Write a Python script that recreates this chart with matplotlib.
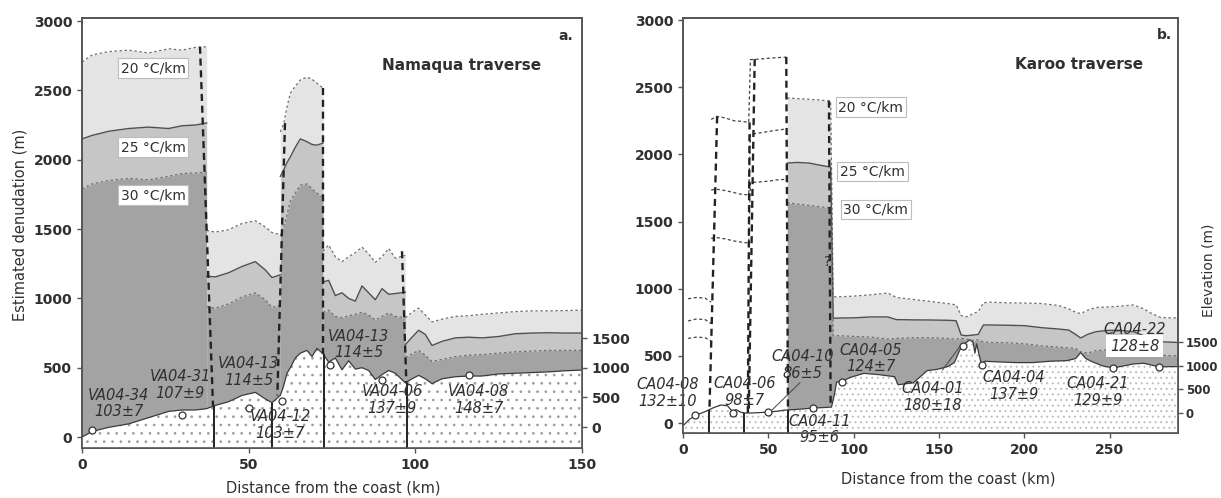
import numpy as np
import matplotlib
matplotlib.use('Agg')
import matplotlib.pyplot as plt

plt.rcParams['font.family'] = ['DejaVu Sans']
plt.rcParams['font.weight'] = 'bold'
plt.rcParams['hatch.linewidth'] = 0.7

# ---------------- Namaqua traverse (a) ----------------
# estimated denudation (m) for three geothermal gradients; repeated km = block break
nam_km = [0, 3, 8, 14, 20, 26, 30, 34, 37.4,
          37.4, 40, 44, 48, 52, 55, 57, 59.5,
          59.5, 60.5, 61.5, 62.5, 64, 65.5, 67.5, 69, 70.5, 72.3,
          72.3, 74, 76, 78, 80, 82, 84, 86, 88, 90, 92, 94, 97,
          97, 99, 101, 103, 105, 108, 112, 116, 120, 125, 130, 135, 140, 145, 150]
nam_t20 = [2705, 2755, 2780, 2790, 2770, 2800, 2790, 2810, 2815,
           1490, 1478, 1495, 1540, 1560, 1515, 1475, 1460,
           2200, 2260, 2380, 2480, 2530, 2575, 2596, 2580, 2552, 2516,
           1340, 1385, 1300, 1265, 1300, 1330, 1370, 1320, 1260, 1300, 1360, 1290, 1310,
           860, 900, 930, 880, 830, 850, 870, 875, 885, 895, 905, 910, 910, 912, 915]
nam_t25 = [2150, 2175, 2205, 2225, 2235, 2225, 2245, 2250, 2265,
           1160, 1155, 1185, 1230, 1265, 1205, 1150, 1170,
           1880, 1925, 1980, 2020, 2090, 2150, 2130, 2110, 2105, 2120,
           1118, 1130, 1020, 1040, 1000, 980, 1090, 1040, 990, 1070, 1030, 1035, 1045,
           665, 720, 770, 740, 660, 690, 715, 720, 715, 725, 745, 750, 752, 750, 750]
nam_t30 = [1790, 1825, 1850, 1865, 1855, 1880, 1900, 1905, 1910,
           940, 930, 960, 1010, 1040, 990, 935, 950,
           1450, 1520, 1600, 1700, 1760, 1817, 1825, 1790, 1759, 1730,
           900, 915, 870, 860, 875, 885, 900, 880, 845, 870, 895, 870, 860,
           575, 600, 625, 590, 545, 560, 580, 590, 595, 605, 615, 620, 625, 625, 625]
# topographic profile (plotted in denudation units)
nam_topo_km = [0, 3, 8, 14, 20, 26, 30, 34, 37.4, 40, 44, 48, 52, 55, 57, 59.5,
               60.5, 61.5, 62.5, 64, 65.5, 67.5, 69, 70.5, 72.3, 74, 76, 78, 80,
               82, 84, 86, 88, 90, 92, 94, 97, 99, 101, 103, 105, 108, 112, 116,
               120, 125, 130, 135, 140, 145, 150]
nam_topo = [0, 40, 70, 95, 140, 185, 195, 195, 205, 228, 255, 300, 322, 275, 248, 300,
            370, 460, 500, 570, 605, 625, 580, 640, 600, 540, 570, 485, 550,
            490, 500, 480, 415, 450, 480, 460, 390, 420, 445, 420, 385, 420, 435, 440,
            440, 455, 460, 465, 470, 478, 483]
# heavy dashed block limits (top -> bottom)
nam_bound_x0 = [35.4, 60.9, 72.3, 96.0]
nam_bound_y0 = [2815, 2264, 2516, 1340]
nam_bound_x1 = [39.3, 58.6, 72.3, 97.3]
nam_bound_y1 = [225, 300, 600, 390]
nam_split_km = [39.5, 57.0, 72.6, 97.6]
nam_split_top = [225, 248, 600, 390]
# samples
nam_samp_km = [3, 30, 50, 60, 74.4, 90, 116]
nam_samp_y = [50, 160, 210, 262, 519, 411, 447]
nam_names = ['VA04-34', 'VA04-31', 'VA04-13', 'VA04-12', 'VA04-13', 'VA04-06', 'VA04-08']
nam_ages = ['103±7', '107±9', '114±5', '103±7', '114±5', '137±9', '148±7']
nam_lab_km = [11, 29.5, 50, 59.4, 83, 93, 119]
nam_lab_y = [245, 375, 469, 87, 670, 267, 267]
nam_grad_km = [21.3, 21.3, 21.3]
nam_grad_y = [2660, 2091, 1745]

# ---------------- Karoo traverse (b) ----------------
kar_km = [3, 8, 13, 16.5,
          16.5, 20, 25, 30, 35, 38.5,
          39.5, 45, 50, 55, 61,
          61, 67, 74, 80, 86.5,
          88, 92, 100, 110, 120, 125, 135, 145, 155, 160, 163, 166, 170, 173, 176,
          180, 190, 200, 210, 220, 226, 230, 233, 237, 242, 249, 256, 264, 270, 274, 280, 290]
kar_t20 = [925, 935, 930, 900,
           2260, 2283, 2270, 2250, 2245, 2238,
           2705, 2710, 2715, 2720, 2724,
           2420, 2415, 2410, 2405, 2395,
           940, 940, 945, 955, 968, 935, 920, 905, 890, 880, 800, 790, 815, 830, 895,
           900, 895, 893, 890, 875, 850, 825, 815, 840, 860, 864, 870, 879, 850, 819, 785, 782]
kar_t25 = [760, 775, 770, 740,
           1735, 1740, 1730, 1715, 1700, 1700,
           2150, 2160, 2170, 2180, 2190,
           1935, 1940, 1935, 1920, 1905,
           780, 782, 783, 790, 790, 770, 768, 767, 765, 762, 655, 650, 655, 660, 730,
           730, 728, 725, 710, 700, 692, 660, 633, 660, 680, 690, 690, 680, 650, 620, 605, 600]
kar_t30 = [630, 640, 635, 610,
           1375, 1380, 1370, 1355, 1345, 1340,
           1790, 1795, 1800, 1810, 1815,
           1640, 1630, 1620, 1610, 1600,
           650, 650, 645, 640, 625, 630, 635, 635, 630, 625, 630, 625, 615, 620, 605,
           600, 598, 590, 575, 565, 560, 555, 530, 520, 540, 545, 550, 540, 525, 515, 505, 500]
kar_open_blocks = [0, 1]  # outlined only, no fill
kar_topo_km = [0, 4, 8, 12, 15, 18, 22, 26, 29, 31, 34, 36, 40, 45, 50, 55, 60, 65, 70, 76,
               82, 87, 88.5, 90, 93, 98, 106, 115, 124, 126, 135, 143, 149, 155, 159, 162,
               164, 166, 168, 170, 171, 172, 174, 175, 177, 185, 195, 205, 215, 225, 230,
               233, 236, 240, 246, 252, 258, 264, 270, 275, 279, 285, 290]
kar_topo = [-20, 30, 60, 80, 97, 115, 134, 130, 85, 100, 80, 75, 75, 78, 82, 88, 97, 100, 105, 112,
            115, 119, 200, 305, 310, 340, 370, 360, 345, 285, 300, 390, 400, 420, 450, 540,
            580, 600, 620, 600, 520, 590, 480, 440, 460, 455, 450, 450, 460, 465, 480,
            525, 480, 455, 425, 410, 425, 440, 445, 430, 418, 420, 420]
kar_bound_x0 = [20.0, 39.0, 42.0, 60.5, 85.5]
kar_bound_y0 = [2283, 2238, 2709, 2724, 2400]
kar_bound_x1 = [15.5, 38.0, 38.5, 61.5, 86.5]
kar_bound_y1 = [97, 75, 75, 97, 119]
kar_split_km = [15.0, 35.5, 61.5]
kar_split_top = [97, 75, 97]
kar_samp_km = [7, 29, 50, 76, 93, 164, 175, 252, 279]
kar_samp_y = [60, 75, 82, 112, 305, 575, 433, 410, 418]
kar_names = ['CA04-08', 'CA04-06', 'CA04-10', 'CA04-11', 'CA04-05', 'CA04-01',
             'CA04-04', 'CA04-21', 'CA04-22']
kar_ages = ['132±10', '98±7', '86±5', '95±6', '124±7', '180±18', '137±9', '129±9', '128±8']
kar_lab_km = [-9, 36, 70, 80, 110, 146, 194, 243, 264.5]
kar_lab_y = [224, 231, 432, -45, 480, 194, 276, 231, 633]
kar_age_box = [False, False, False, False, False, False, False, False, True]
kar_lead_km = [(68.5, 52), (152, 162.5)]
kar_lead_y = [(300, 95), (395, 575)]
kar_grad_km = [110, 111, 113]
kar_grad_y = [2351, 1873, 1590]

grad_labels = ['20 °C/km', '25 °C/km', '30 °C/km']

LIGHT, MID, DARK = '#e4e4e4', '#c6c6c6', '#a3a3a3'
BOTTOM = -300
TXT = '#303030'


def blocks(km):
    km = np.asarray(km, float)
    cuts = np.where(np.diff(km) == 0)[0] + 1
    return np.split(np.arange(len(km)), cuts)


def draw_layers(ax, km, t20, t25, t30, open_blocks=()):
    km, t20, t25, t30 = (np.asarray(a, float) for a in (km, t20, t25, t30))
    for i, idx in enumerate(blocks(km)):
        x = km[idx]
        if i in open_blocks:
            for y in (t20, t25, t30):
                ax.plot(x, y[idx], color='#444', lw=0.9, ls=(0, (2.5, 2)), zorder=6)
            continue
        ax.fill_between(x, t25[idx], t20[idx], color=LIGHT, lw=0, zorder=1)
        ax.fill_between(x, t30[idx], t25[idx], color=MID, lw=0, zorder=1)
        ax.fill_between(x, BOTTOM, t30[idx], color=DARK, lw=0, zorder=1)
        ax.plot(x, t20[idx], color='#707070', lw=0.9, ls=(0, (2, 2)), zorder=5)
        ax.plot(x, t25[idx], color='#505050', lw=1.0, zorder=5)
        ax.plot(x, t30[idx], color='#707070', lw=0.9, ls=(0, (2, 2)), zorder=5)


def draw_topo(ax, km, topo, hatch, dot_color):
    ax.fill_between(km, BOTTOM, topo, facecolor='white', edgecolor=dot_color,
                    hatch=hatch, lw=0, zorder=3)
    ax.plot(km, topo, color='#3a3a3a', lw=0.9, zorder=4)


def draw_bounds(ax, x0, y0, x1, y1, split_km, split_top):
    for a, b, c, d in zip(x0, y0, x1, y1):
        ax.plot([a, c], [b, d], color='#222', lw=1.7, ls=(0, (3, 2)), zorder=7)
    ax.vlines(split_km, BOTTOM, split_top, color='#222', lw=1.4, zorder=7)


def draw_samples(ax, sx, sy, names, ages, lx, ly, boxes=None):
    ax.plot(sx, sy, 'o', ms=5, mfc='white', mec='#333', mew=0.9, zorder=8)
    if boxes is None:
        boxes = [False] * len(names)
    for x, y, n, a, bx in zip(lx, ly, names, ages, boxes):
        ax.annotate(n, (x, y), xytext=(0, 5.8), textcoords='offset points',
                    ha='center', va='center', style='italic', fontweight='normal',
                    fontsize=10.5, color=TXT, zorder=9, annotation_clip=False)
        kw = dict(boxstyle='square,pad=0.25', fc='white', ec='none') if bx else None
        ax.annotate(a, (x, y), xytext=(0, -5.8), textcoords='offset points',
                    ha='center', va='center', style='italic', fontweight='normal',
                    fontsize=10.5, color=TXT, zorder=9, bbox=kw, annotation_clip=False)


def draw_grad_labels(ax, gx, gy):
    for x, y, t in zip(gx, gy, grad_labels):
        ax.text(x, y, t, ha='center', va='center', fontsize=10, fontweight='normal',
                color=TXT, zorder=9,
                bbox=dict(boxstyle='square,pad=0.2', fc='white', ec='#bdbdbd', lw=0.8))


def style(ax, twin, elev_lim, elev_size):
    for a in (ax, twin):
        for s in a.spines.values():
            s.set_color('#555')
            s.set_linewidth(1.2)
        a.tick_params(direction='out', length=3.5, width=1, color='#555',
                      labelsize=10, labelcolor=TXT)
    twin.tick_params(labelsize=elev_size)
    twin.set_ylim(*elev_lim)
    twin.set_yticks([0, 500, 1000, 1500])


fig = plt.figure(figsize=(12.21, 4.98), dpi=100)
axL = fig.add_axes([82 / 1221, 1 - 448 / 498, 500 / 1221, 430 / 498])
axR = fig.add_axes([683 / 1221, 1 - 433 / 498, 495 / 1221, 415 / 498])

# panel a
draw_layers(axL, nam_km, nam_t20, nam_t25, nam_t30)
draw_topo(axL, nam_topo_km, nam_topo, '..', '#9c9c9c')
draw_bounds(axL, nam_bound_x0, nam_bound_y0, nam_bound_x1, nam_bound_y1,
            nam_split_km, nam_split_top)
draw_samples(axL, nam_samp_km, nam_samp_y, nam_names, nam_ages, nam_lab_km, nam_lab_y)
draw_grad_labels(axL, nam_grad_km, nam_grad_y)
axL.set_xlim(0, 150)
axL.set_ylim(-79, 3022)
axL.set_xticks([0, 50, 100, 150])
axL.set_yticks(range(0, 3001, 500))
axL.text(114, 2680, 'Namaqua traverse', ha='center', va='center', fontsize=11,
         color=TXT)
axL.text(145, 2890, 'a.', ha='center', va='center', fontsize=10, color=TXT)
axL.set_ylabel('Estimated denudation (m)', fontsize=10.5, color=TXT)
axL.yaxis.set_label_coords(-0.108, 0.52)
axL.set_xlabel('Distance from the coast (km)', fontsize=10.5, color=TXT)
axL.xaxis.set_label_coords(0.502, -0.075)
twL = axL.twinx()
style(axL, twL, (-354, 6897), 10)

# panel b
draw_layers(axR, kar_km, kar_t20, kar_t25, kar_t30, kar_open_blocks)
draw_topo(axR, kar_topo_km, kar_topo, '...', '#bcbcbc')
draw_bounds(axR, kar_bound_x0, kar_bound_y0, kar_bound_x1, kar_bound_y1,
            kar_split_km, kar_split_top)
for lx, ly in zip(kar_lead_km, kar_lead_y):
    axR.plot(lx, ly, color='#444', lw=0.7, zorder=8)
draw_samples(axR, kar_samp_km, kar_samp_y, kar_names, kar_ages, kar_lab_km, kar_lab_y,
             kar_age_box)
draw_grad_labels(axR, kar_grad_km, kar_grad_y)
axR.text(84.5, 1200, '?', ha='center', va='center', fontsize=10, fontweight='normal',
         color=TXT, zorder=9)
axR.set_xlim(0, 290)
axR.set_ylim(-74, 3015)
axR.set_xticks(range(0, 251, 50))
axR.set_yticks(range(0, 3001, 500))
axR.text(232, 2670, 'Karoo traverse', ha='center', va='center', fontsize=11,
         color=TXT)
axR.text(282, 2890, 'b.', ha='center', va='center', fontsize=10, color=TXT)
axR.set_xlabel('Distance from the coast (km)', fontsize=10.5, color=TXT)
axR.xaxis.set_label_coords(0.535, -0.092)
twR = axR.twinx()
style(axR, twR, (-423, 8351), 8.5)
twR.tick_params(pad=2)
twR.set_ylabel('Elevation (m)', fontsize=10, color=TXT)
twR.yaxis.set_label_coords(1.048, 0.393)

fig.savefig('out.png', dpi=100)
